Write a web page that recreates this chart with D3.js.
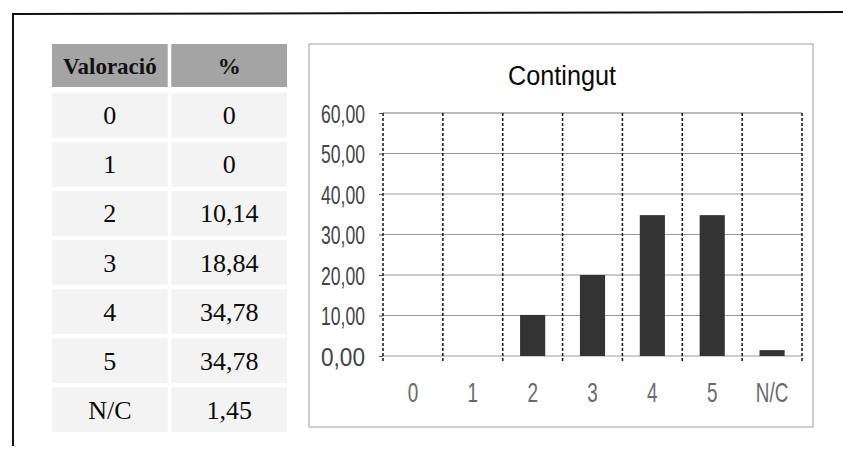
<!DOCTYPE html>
<html>
<head>
<meta charset="utf-8">
<script src="https://cdn.jsdelivr.net/npm/d3@7"></script>
<style>
  body { margin: 0; background: #fff; }
  svg { display: block; }
  .cell-txt { font-family: 'Liberation Serif', 'DejaVu Serif', serif; font-size: 26px; fill: #0a0a0a; }
  .head-txt { font-family: 'Liberation Serif', 'DejaVu Serif', serif; font-size: 23px; font-weight: bold; fill: #111; }
  .title { font-family: 'Liberation Sans', Arial, sans-serif; font-size: 27px; fill: #0a0a0a; }
  .axis text { font-family: 'Liberation Sans', Arial, sans-serif; font-size: 26px; fill: #444; }
  .xlab { font-family: 'Liberation Sans', Arial, sans-serif; font-size: 27px; fill: #6a6a6a; }
</style>
</head>
<body>
<svg width="843" height="455"></svg>
<script>
// table + chart data
const categories = ['0', '1', '2', '3', '4', '5', 'N/C'];
const percentLabels = ['0', '0', '10,14', '18,84', '34,78', '34,78', '1,45'];
const barValues = [0, 0, 10.14, 20.0, 34.78, 34.78, 1.45];
const yTicks = [0, 10, 20, 30, 40, 50, 60];
const headers = ['Valoració', '%'];
const chartTitle = 'Contingut';

const svg = d3.select('svg');
const width  = +svg.attr('width');
const height = +svg.attr('height');

svg.append('rect').attr('width', width).attr('height', height).attr('fill', '#fff');

// page frame (top rule + left rule)
svg.append('line')
  .attr('x1', 12).attr('y1', 14).attr('x2', width).attr('y2', 12)
  .attr('stroke', '#111').attr('stroke-width', 2);
svg.append('line')
  .attr('x1', 13).attr('y1', 13).attr('x2', 13).attr('y2', 446)
  .attr('stroke', '#111').attr('stroke-width', 2);

// ---- table ----
const colX = d3.scaleBand().domain(headers).range([52, 287]).paddingInner(0.03);
const rowY = d3.scaleBand().domain(categories).range([93, 432]).paddingInner(0.09);

const table = svg.append('g');

table.selectAll('.head')
  .data(headers)
  .join('rect')
  .attr('x', d => colX(d))
  .attr('y', 44)
  .attr('width', colX.bandwidth())
  .attr('height', 43)
  .attr('fill', '#a4a4a4');

table.selectAll('.head-txt')
  .data(headers)
  .join('text')
  .attr('class', 'head-txt')
  .attr('x', d => colX(d) + colX.bandwidth() / 2)
  .attr('y', 74)
  .attr('text-anchor', 'middle')
  .text(d => d);

const rows = categories.map((c, i) => ({ cat: c, pct: percentLabels[i] }));

headers.forEach((h, j) => {
  table.selectAll('.cell' + j)
    .data(rows)
    .join('rect')
    .attr('x', colX(h))
    .attr('y', d => rowY(d.cat))
    .attr('width', colX.bandwidth())
    .attr('height', rowY.bandwidth())
    .attr('fill', '#f3f3f3');

  table.selectAll('.ctxt' + j)
    .data(rows)
    .join('text')
    .attr('class', 'cell-txt')
    .attr('x', colX(h) + colX.bandwidth() / 2)
    .attr('y', d => rowY(d.cat) + rowY.bandwidth() / 2 + 9)
    .attr('text-anchor', 'middle')
    .text(d => j === 0 ? d.cat : d.pct);
});

// ---- chart panel ----
svg.append('rect')
  .attr('x', 309).attr('y', 44).attr('width', 504).attr('height', 383)
  .attr('fill', '#fff').attr('stroke', '#b0b0b0').attr('stroke-width', 1.2);

svg.append('text')
  .attr('class', 'title')
  .attr('x', 562).attr('y', 85)
  .attr('text-anchor', 'middle')
  .attr('textLength', 108)
  .attr('lengthAdjust', 'spacingAndGlyphs')
  .text(chartTitle);

const x = d3.scaleBand().domain(categories).range([383, 802]);
const y = d3.scaleLinear().domain([0, 60]).range([356, 113]);

const plot = svg.append('g');

// horizontal grid
plot.selectAll('.hgrid')
  .data(yTicks)
  .join('line')
  .attr('x1', 383).attr('x2', 802)
  .attr('y1', d => y(d)).attr('y2', d => y(d))
  .attr('stroke', d => d === 60 ? '#777' : '#9a9a9a')
  .attr('stroke-width', 1.2);

// vertical dashed separators
const bounds = categories.map(c => x(c)).concat([x.range()[1]]);
plot.selectAll('.vgrid')
  .data(bounds)
  .join('line')
  .attr('x1', d => d).attr('x2', d => d)
  .attr('y1', y(60)).attr('y2', y(0) + 7)
  .attr('stroke', '#111')
  .attr('stroke-width', 1.5)
  .attr('stroke-dasharray', '3,2');

// bars
const barW = x.bandwidth() * 0.42;
plot.selectAll('.bar')
  .data(barValues.map((v, i) => ({ cat: categories[i], v })))
  .join('rect')
  .attr('x', d => x(d.cat) + (x.bandwidth() - barW) / 2)
  .attr('y', d => y(d.v))
  .attr('width', barW)
  .attr('height', d => y(0) - y(d.v))
  .attr('fill', '#333');

// y axis
const yAxis = d3.axisLeft(y)
  .tickValues(yTicks)
  .tickSize(4)
  .tickPadding(14)
  .tickFormat(d => d3.format('.2f')(d).replace('.', ','));

plot.append('g')
  .attr('class', 'axis')
  .attr('transform', 'translate(383,0)')
  .call(yAxis)
  .call(g => g.select('.domain').remove())
  .call(g => g.selectAll('line').attr('stroke', '#555'))
  .call(g => g.selectAll('text')
    .attr('dy', '0.36em')
    .attr('textLength', 44)
    .attr('lengthAdjust', 'spacingAndGlyphs'));

// x labels (narrowed like the original condensed face)
plot.selectAll('.xlab')
  .data(categories)
  .join('text')
  .attr('class', 'xlab')
  .attr('transform', d => `translate(${x(d) + x.bandwidth() / 2},402) scale(0.7,1)`)
  .attr('text-anchor', 'middle')
  .text(d => d);
</script>
</body>
</html>
